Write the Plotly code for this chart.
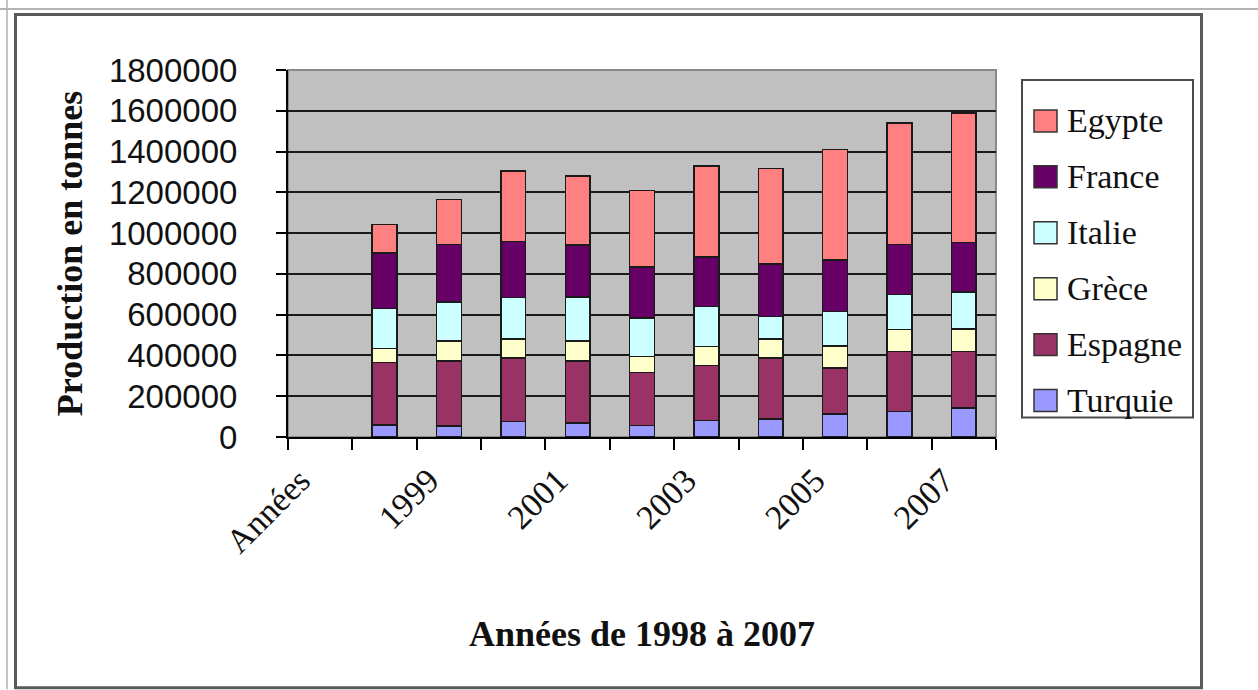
import plotly.graph_objects as go

# Categories on the horizontal axis (first slot is the axis caption, left empty)
categories = ["Années", "1998", "1999", "2000", "2001", "2002",
              "2003", "2004", "2005", "2006", "2007"]
years = categories[1:]

# Production in tonnes per country and year
turquie = [60000, 53000, 77000, 69000, 56000, 81000, 89000, 113000, 126000, 143000]
espagne = [305000, 321000, 310000, 305000, 261000, 269000, 298000, 225000, 293000, 277000]
grece = [70000, 98000, 93000, 98000, 78000, 94000, 93000, 109000, 109000, 109000]
italie = [196000, 189000, 205000, 214000, 188000, 196000, 110000, 168000, 171000, 181000]
france = [272000, 284000, 275000, 256000, 252000, 242000, 258000, 253000, 245000, 243000]
egypte = [140000, 220000, 344000, 337000, 375000, 446000, 468000, 541000, 595000, 636000]

series_names = ["Turquie", "Espagne", "Grèce", "Italie", "France", "Egypte"]
series_values = [turquie, espagne, grece, italie, france, egypte]
series_colors = ["#9999FF", "#993366", "#FFFFCC", "#CCFFFF", "#660066", "#FF8080"]

y_ticks = list(range(0, 1800001, 200000))
x_label_idx = list(range(0, len(categories), 2))

W, H = 1258, 690
L, R, T, B = 288, 996, 70, 437.5


def px_x(x):
    return (x - L) / (R - L)


def px_y(y):
    return 1 - (y - T) / (B - T)


x_pos = [categories.index(y) for y in years]

fig = go.Figure()
for name, vals, col in zip(series_names, series_values, series_colors):
    fig.add_trace(go.Bar(
        x=x_pos, y=vals, name=name, width=0.385,
        marker=dict(color=col, line=dict(color="#1a1a1a", width=1.5)),
        showlegend=False,
    ))

serif = "Liberation Serif, Times New Roman, serif"
sans = "Liberation Sans, Arial, sans-serif"

shapes = []
annotations = []

# outer frame of the chart
shapes.append(dict(type="line", xref="paper", yref="paper",
                   x0=px_x(0), x1=px_x(W), y0=px_y(9), y1=px_y(9),
                   line=dict(color="#9a9a9a", width=1.5), layer="above"))
shapes.append(dict(type="line", xref="paper", yref="paper",
                   x0=px_x(7), x1=px_x(7), y0=px_y(0), y1=px_y(H),
                   line=dict(color="#b0b0b0", width=1.5), layer="above"))
shapes.append(dict(type="rect", xref="paper", yref="paper",
                   x0=px_x(15.5), x1=px_x(1201.5), y0=px_y(14.5), y1=px_y(688.5),
                   line=dict(color="#5a5a5a", width=3), layer="above"))

# plot-area border (grey on top and right)
shapes.append(dict(type="rect", xref="paper", yref="paper",
                   x0=0, x1=1, y0=0, y1=1,
                   line=dict(color="#8a8a8a", width=2), layer="below"))

# legend: top entry is the last stacked series
leg_left, leg_right, leg_top, leg_bottom = 1022, 1193, 80, 418
shapes.append(dict(type="rect", xref="paper", yref="paper",
                   x0=px_x(leg_left), x1=px_x(leg_right),
                   y0=px_y(leg_top), y1=px_y(leg_bottom),
                   line=dict(color="#4a4a4a", width=2), fillcolor="white",
                   layer="above"))
for k, (name, col) in enumerate(zip(series_names[::-1], series_colors[::-1])):
    cy = 121 + k * 56
    shapes.append(dict(type="rect", xref="paper", yref="paper",
                       x0=px_x(1034), x1=px_x(1057),
                       y0=px_y(cy - 11), y1=px_y(cy + 11),
                       fillcolor=col, line=dict(color="#333333", width=1.5),
                       layer="above"))
    annotations.append(dict(xref="paper", yref="paper", x=px_x(1065), y=px_y(cy),
                            text=name, showarrow=False, xanchor="left",
                            yanchor="middle",
                            font=dict(family=serif, size=34, color="#111111")))

fig.update_layout(
    width=W, height=H,
    margin=dict(l=L, r=W - R, t=T, b=H - B, autoexpand=False),
    paper_bgcolor="white",
    plot_bgcolor="#C0C0C0",
    barmode="stack",
    showlegend=False,
    shapes=shapes,
    annotations=annotations,
    xaxis=dict(
        range=[-0.5, len(categories) - 0.5],
        tickmode="array",
        tickvals=x_label_idx,
        ticktext=[categories[i] for i in x_label_idx],
        ticks="",
        tickangle=-45,
        tickfont=dict(family=serif, size=34, color="#111111"),
        ticklabelstandoff=8,
        ticklabelshift=-20,
        showgrid=False, zeroline=False,
        showline=True, linecolor="black", linewidth=2,
        minor=dict(tickmode="array",
                   tickvals=[i - 0.5 for i in range(len(categories) + 1)],
                   ticks="outside", ticklen=11, tickwidth=1.5,
                   tickcolor="black", showgrid=False),
        title=dict(text="Années de 1998 à 2007",
                   font=dict(family=serif, size=36, color="#111111",
                             weight="bold"),
                   standoff=62),
        automargin=False,
        fixedrange=True,
    ),
    yaxis=dict(
        range=[0, 1800000],
        tickmode="array",
        tickvals=y_ticks,
        tickformat="d",
        ticks="outside", ticklen=10, tickwidth=1.5, tickcolor="black",
        tickfont=dict(family=sans, size=33, color="#111111"),
        ticklabelstandoff=32,
        showgrid=True, gridcolor="#1a1a1a", gridwidth=1.6,
        zeroline=False,
        showline=True, linecolor="black", linewidth=2,
        title=dict(text="Production en tonnes",
                   font=dict(family=serif, size=36, color="#111111",
                             weight="bold"),
                   standoff=15),
        automargin=False,
        fixedrange=True,
    ),
)

fig.write_html("out.html")
